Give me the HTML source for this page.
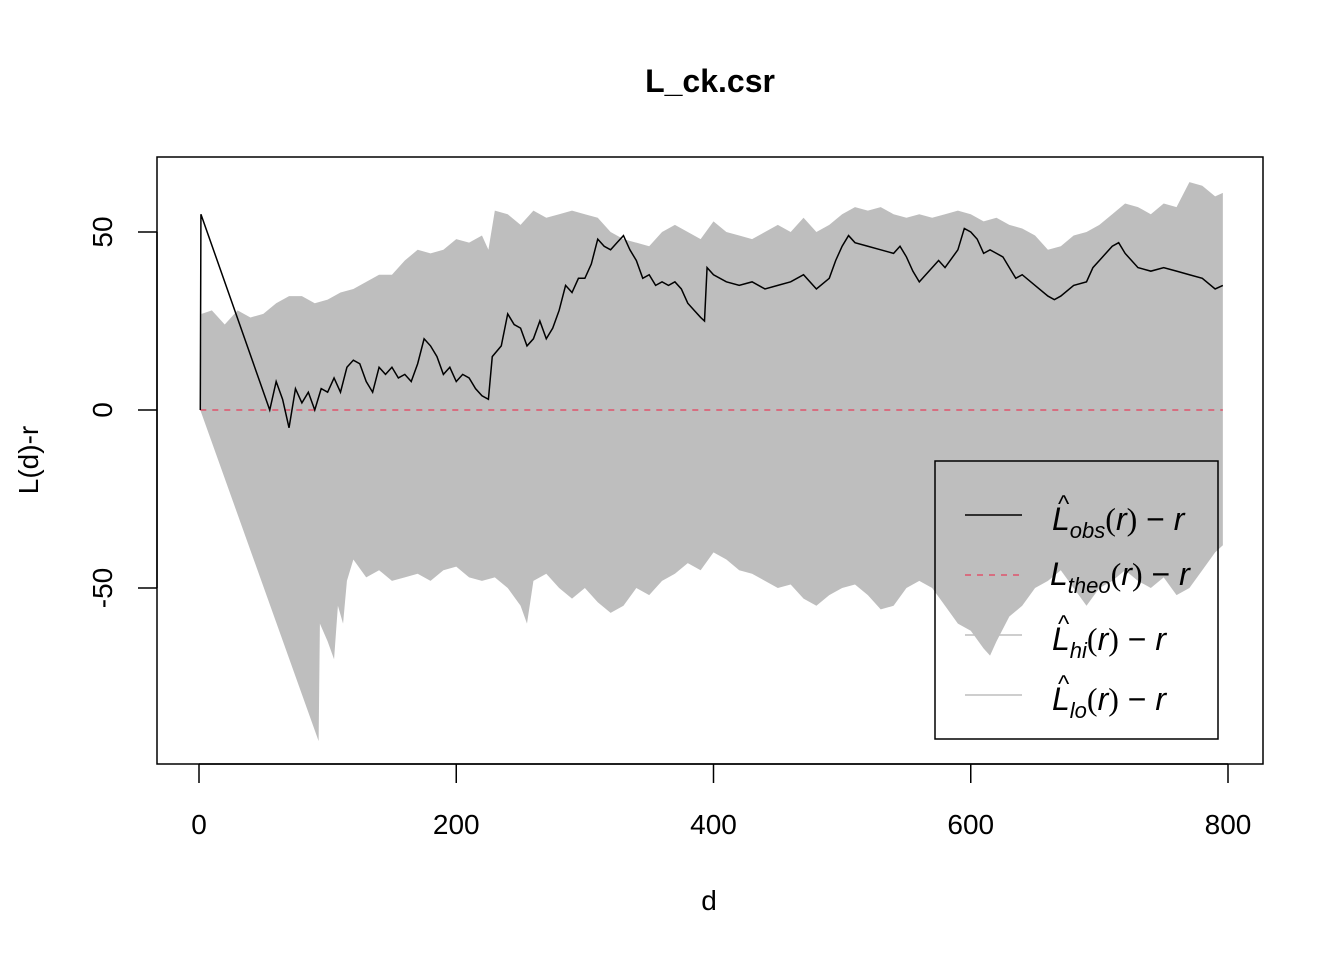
<!DOCTYPE html>
<html><head><meta charset="utf-8"><style>
body{margin:0;background:#fff}
svg text{font-family:"Liberation Sans",sans-serif}
</style></head><body>
<svg id="chart" width="1344" height="960" xmlns="http://www.w3.org/2000/svg">
<text x="710" y="92" text-anchor="middle" font-size="32" font-weight="bold">L_ck.csr</text>
<g id="band"></g>
<g id="lines"></g>
<rect x="157" y="157" width="1106" height="607" fill="none" stroke="#000" stroke-width="1.5"/>
<g id="axes"></g>
<text x="709" y="910" text-anchor="middle" font-size="28">d</text>
<text transform="translate(38,460) rotate(-90)" text-anchor="middle" font-size="28">L(d)-r</text>
<g font-family="Liberation Serif" >
<rect x="935" y="461" width="283" height="278" fill="none" stroke="#000" stroke-width="1.5"/>
<line x1="965" y1="515" x2="1022" y2="515" stroke="#000" stroke-width="1.5"/>
<line x1="965" y1="575" x2="1022" y2="575" stroke="#DF536B" stroke-width="1.5" stroke-dasharray="6,6"/>
<line x1="965" y1="635" x2="1022" y2="635" stroke="#bebebe" stroke-width="1.5"/>
<line x1="965" y1="695" x2="1022" y2="695" stroke="#bebebe" stroke-width="1.5"/>
<text x="1052" y="530" font-size="32" font-style="italic" font-family="Liberation Sans">L<tspan font-size="22" dy="8">obs</tspan><tspan dy="-8" font-style="normal" font-family="Liberation Serif">(</tspan>r<tspan font-style="normal" font-family="Liberation Serif">)</tspan><tspan font-style="normal"> − </tspan>r</text>
<text x="1058" y="512" font-size="24">^</text>
<text x="1050" y="585" font-size="32" font-style="italic">L<tspan font-size="22" dy="8">theo</tspan><tspan dy="-8" font-style="normal" font-family="Liberation Serif">(</tspan>r<tspan font-style="normal" font-family="Liberation Serif">)</tspan><tspan font-style="normal"> − </tspan>r</text>
<text x="1052" y="650" font-size="32" font-style="italic">L<tspan font-size="22" dy="8">hi</tspan><tspan dy="-8" font-style="normal" font-family="Liberation Serif">(</tspan>r<tspan font-style="normal" font-family="Liberation Serif">)</tspan><tspan font-style="normal"> − </tspan>r</text>
<text x="1058" y="632" font-size="24">^</text>
<text x="1052" y="710" font-size="32" font-style="italic">L<tspan font-size="22" dy="8">lo</tspan><tspan dy="-8" font-style="normal" font-family="Liberation Serif">(</tspan>r<tspan font-style="normal" font-family="Liberation Serif">)</tspan><tspan font-style="normal"> − </tspan>r</text>
<text x="1058" y="692" font-size="24">^</text>
</g>
</svg>
<script>
const xTicks=[0,200,400,600,800];
const yTicks=[-50,0,50];
const hiD=[1,2,10,20,30,40,50,60,70,80,90,100,110,120,130,140,150,160,170,180,190,200,210,220,225,230,240,250,260,270,280,290,300,310,320,330,340,350,360,370,380,390,400,410,420,430,440,450,460,470,480,490,500,510,520,530,540,550,560,570,580,590,600,610,620,630,640,650,660,670,680,690,700,710,720,730,740,750,760,770,780,790,796];
const hiV=[0,27,28,24,28,26,27,30,32,32,30,31,33,34,36,38,38,42,45,44,45,48,47,49,45,56,55,52,56,54,55,56,55,54,50,48,47,46,50,52,50,48,53,50,49,48,50,52,50,54,50,52,55,57,56,57,55,54,55,54,55,56,55,53,54,52,51,49,45,46,49,50,52,55,58,57,55,58,57,64,63,60,61];
const loD=[1,93,94,100,105,108,112,115,120,130,140,150,160,170,180,190,200,210,220,230,240,250,255,260,270,280,290,300,310,320,330,340,350,360,370,380,390,400,410,420,430,440,450,460,470,480,490,500,510,520,530,540,550,560,570,580,590,600,610,615,620,630,640,650,660,670,680,690,700,710,720,730,740,750,760,770,780,790,796];
const loV=[0,-93,-60,-65,-70,-55,-60,-48,-42,-47,-45,-48,-47,-46,-48,-45,-44,-47,-48,-47,-50,-55,-60,-48,-46,-50,-53,-50,-54,-57,-55,-50,-52,-48,-46,-43,-45,-40,-42,-45,-46,-48,-50,-49,-53,-55,-52,-50,-49,-52,-56,-55,-50,-48,-50,-55,-60,-62,-67,-69,-65,-58,-55,-50,-48,-45,-50,-55,-50,-48,-45,-48,-50,-47,-52,-50,-45,-40,-38];
const obsD=[1,1.5,55,60,65,70,75,80,85,90,95,100,105,110,115,120,125,130,135,140,145,150,155,160,165,170,175,180,185,190,195,200,205,210,215,220,225,228,235,240,245,250,255,260,265,270,275,280,285,290,295,300,305,310,315,320,325,330,335,340,345,350,355,360,365,370,375,380,385,390,393,395,400,410,420,430,440,450,460,470,480,490,495,500,505,510,520,530,540,545,550,555,560,570,575,580,590,595,600,605,610,615,620,625,630,635,640,650,660,665,670,680,690,695,700,710,715,720,730,740,750,760,770,780,790,796];
const obsV=[0,55,0,8,3,-5,6,2,5,0,6,5,9,5,12,14,13,8,5,12,10,12,9,10,8,13,20,18,15,10,12,8,10,9,6,4,3,15,18,27,24,23,18,20,25,20,23,28,35,33,37,37,41,48,46,45,47,49,45,42,37,38,35,36,35,36,34,30,28,26,25,40,38,36,35,36,34,35,36,38,34,37,42,46,49,47,46,45,44,46,43,39,36,40,42,40,45,51,50,48,44,45,44,43,40,37,38,35,32,31,32,35,36,40,42,46,47,44,40,39,40,39,38,37,34,35];
const X=d=>199+d*(1228-199)/800;
const Y=v=>410-v*(410-232)/50;
const NS="http://www.w3.org/2000/svg";
function mk(t,p,a){const e=document.createElementNS(NS,t);for(const k in a)e.setAttribute(k,a[k]);p.appendChild(e);return e;}
const band=document.getElementById('band');
let pts=hiD.map((d,i)=>X(d)+','+Y(hiV[i]));
for(let i=loD.length-1;i>=0;i--)pts.push(X(loD[i])+','+Y(loV[i]));
const poly=mk('polygon',band,{points:pts.join(' '),fill:'#bebebe',stroke:'none'});


const lines=document.getElementById('lines');
const theo=mk('line',lines,{x1:X(1),y1:Y(0),x2:X(796),y2:Y(0),stroke:'#DF536B','stroke-width':1.5,'stroke-dasharray':'6,6'});


const obs=mk('polyline',lines,{points:obsD.map((d,i)=>X(d)+','+Y(obsV[i])).join(' '),fill:'none',stroke:'#000','stroke-width':1.5});


const ax=document.getElementById('axes');
const xl=mk('line',ax,{x1:X(0),y1:764,x2:X(800),y2:764,stroke:'#000','stroke-width':1.5});


xTicks.forEach(t=>{
 const l=mk('line',ax,{x1:X(t),y1:764,x2:X(t),y2:783,stroke:'#000','stroke-width':1.5});
 
 
 const tx=mk('text',ax,{x:X(t),y:834,'text-anchor':'middle','font-size':28});
 tx.textContent=t;
 
 
});
const yl=mk('line',ax,{x1:157,y1:Y(-50),x2:157,y2:Y(50),stroke:'#000','stroke-width':1.5});


yTicks.forEach(t=>{
 const l=mk('line',ax,{x1:138,y1:Y(t),x2:157,y2:Y(t),stroke:'#000','stroke-width':1.5});
 
 
 const tx=mk('text',ax,{transform:`translate(112,${Y(t)}) rotate(-90)`,'text-anchor':'middle','font-size':28});
 tx.textContent=t;
 
 
});
</script>
</body></html>
